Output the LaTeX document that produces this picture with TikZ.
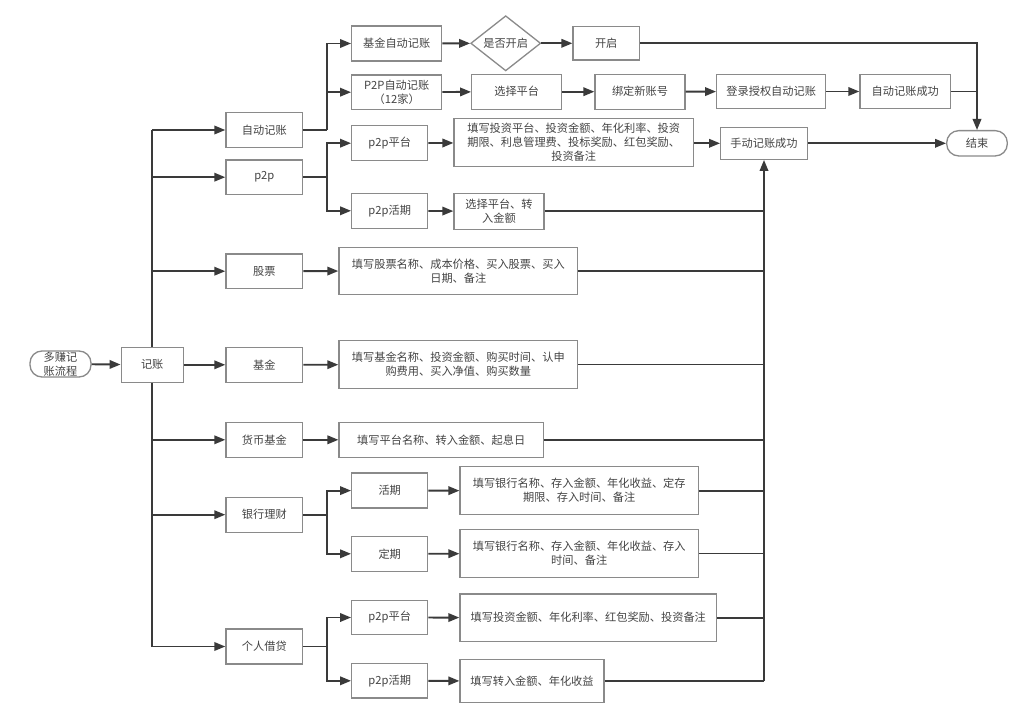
\documentclass[tikz,border=0pt]{standalone}
\usepackage{fontspec}
\setmainfont{Noto Sans CJK SC}
\usetikzlibrary{arrows.meta,shapes.geometric}
\definecolor{boxc}{HTML}{8A8A8A}
\definecolor{linec}{HTML}{3A3A3A}
\definecolor{txtc}{HTML}{444444}
\tikzset{
  base/.style={draw=boxc, line width=1.3pt, text=txtc, inner sep=0pt, align=center,
    font=\fontsize{11.2}{14}\selectfont},
  box/.style={base, rectangle, minimum width=#1},
  box/.default=76.7pt,
  bh/.style={minimum height=#1},
  term/.style={base, rectangle, rounded corners=12pt},
  dec/.style={base, diamond, minimum width=70pt, minimum height=46.7pt},
  conn/.style={draw=linec, line width=1.9pt},
  arr/.style={conn, -{Triangle[length=11pt,width=8.5pt]}}
}
\begin{document}
\begin{tikzpicture}[x=1pt,y=-1pt]
\useasboundingbox[fill=white] (0,0) rectangle (1024,708);
% left
\node[term, minimum width=61pt, minimum height=26pt] (start) at (60.5,364) {多赚记\\账流程};
\node[box=62pt, bh=35pt] (jz) at (152.2,364.8) {记账};
% categories
\node[box, bh=34.7pt] (zdjz) at (264.3,130) {自动记账};
\node[box, bh=34.3pt] (p2p) at (264.3,177.2) {p2p};
\node[box, bh=34.3pt] (gp) at (264.3,271.2) {股票};
\node[box, bh=35pt] (jj) at (264.3,364.8) {基金};
\node[box, bh=35pt] (hbjj) at (264.3,439.8) {货币基金};
\node[box, bh=35pt] (yhlc) at (264.3,514.7) {银行理财};
\node[box, bh=35pt] (grjd) at (264.3,646.5) {个人借贷};
% top rows
\node[box=90pt, bh=35pt] (jjzd) at (396.7,43.5) {基金自动记账};
\node[dec] (sfkq) at (505.7,43.3) {是否开启};
\node[box=66.3pt, bh=33.3pt] (kq) at (606.2,43.3) {开启};
\node[box=90pt, bh=34.3pt] (p2pzd) at (396.7,92.2) {P2P自动记账\\（12家）};
\node[box=90pt, bh=35pt] (xzpt) at (516.7,91.7) {选择平台};
\node[box=90pt, bh=35pt] (bd) at (640,91.7) {绑定新账号};
\node[box=109pt, bh=34pt] (dl) at (771.2,91.5) {登录授权自动记账};
\node[box=90.7pt, bh=34pt] (zdcg) at (905.3,91.5) {自动记账成功};
\node[term, minimum width=60.6pt, minimum height=25.3pt] (end) at (977,143.3) {结束};
\node[box=86.6pt, bh=32pt] (sdcg) at (764,143.3) {手动记账成功};
% p2p
\node[box=76pt, bh=35pt] (p2ppt) at (389.7,143.2) {p2p平台};
\node[box=76pt, bh=35pt] (p2phq) at (389.7,210.8) {p2p活期};
\node[box=239.3pt, bh=48.4pt] (t1) at (573.7,142.5) {填写投资平台、投资金额、年化利率、投资\\期限、利息管理费、投标奖励、红包奖励、\\投资备注};
\node[box=90pt, bh=36pt] (t2) at (499,211.3) {选择平台、转\\入金额};
% stock / fund / money fund
\node[box=238.7pt, bh=47pt] (t3) at (458.3,270.8) {填写股票名称、成本价格、买入股票、买入\\日期、备注};
\node[box=238.7pt, bh=48pt] (t4) at (458.3,364.5) {填写基金名称、投资金额、购买时间、认申\\购费用、买入净值、购买数量};
\node[box=204.3pt, bh=35pt] (t5) at (441.2,439.8) {填写平台名称、转入金额、起息日};
% bank
\node[box=76pt, bh=35pt] (hq) at (389.7,490.6) {活期};
\node[box=76pt, bh=35pt] (dq) at (389.7,553.8) {定期};
\node[box=238.3pt, bh=48pt] (t6) at (579.2,490.7) {填写银行名称、存入金额、年化收益、定存\\期限、存入时间、备注};
\node[box=238.3pt, bh=47.6pt] (t7) at (579.2,553.5) {填写银行名称、存入金额、年化收益、存入\\时间、备注};
% loans
\node[box=76pt, bh=34.4pt] (p2ppt2) at (389.7,617.5) {p2p平台};
\node[box=76pt, bh=34.3pt] (p2phq2) at (389.7,680.8) {p2p活期};
\node[box=256.7pt, bh=47.3pt] (t8) at (588.3,617.7) {填写投资金额、年化利率、红包奖励、投资备注};
\node[box=144pt, bh=42.6pt] (t9) at (532,681) {填写转入金额、年化收益};
% helper coordinates
\coordinate (ttop) at (152.2,130);
\coordinate (tbot) at (152.2,646.5);
\coordinate (b1) at (327,130);
\coordinate (b2) at (327,177.2);
\coordinate (b3) at (327,514.7);
\coordinate (b4) at (327,646.5);
% connectors
\draw[arr] (start) -- (jz);
\draw[conn] (jz.north) -- (ttop);
\draw[conn] (jz.south) -- (tbot);
\foreach \n in {zdjz,p2p,gp,hbjj,yhlc,grjd}{
  \draw[arr] (\n -| jz) -- (\n.west);
}
\draw[arr] (jz) -- (jj);
\draw[conn] (zdjz.east) -- (b1);
\draw[arr] (b1) |- (jjzd.west);
\draw[arr] (b1) |- (p2pzd.west);
\draw[arr] (jjzd) -- (sfkq);
\draw[arr] (sfkq) -- (kq);
\draw[arr] (kq.east) -| (end.north);
\draw[arr] (p2pzd) -- (xzpt);
\draw[arr] (xzpt) -- (bd);
\draw[arr] (bd) -- (dl);
\draw[arr] (dl) -- (zdcg);
\draw[conn] (zdcg.east) -- (zdcg -| end);
\draw[conn] (p2p.east) -- (b2);
\draw[arr] (b2) |- (p2ppt.west);
\draw[arr] (b2) |- (p2phq.west);
\draw[arr] (p2ppt) -- (t1);
\draw[arr] (t1.east |- sdcg) -- (sdcg);
\draw[arr] (sdcg) -- (end);
\draw[arr] (p2phq) -- (t2);
\draw[arr] (gp) -- (t3);
\draw[arr] (jj) -- (t4);
\draw[arr] (hbjj) -- (t5);
\draw[conn] (yhlc.east) -- (b3);
\draw[arr] (b3) |- (hq.west);
\draw[arr] (b3) |- (dq.west);
\draw[arr] (hq) -- (t6);
\draw[arr] (dq) -- (t7);
\draw[conn] (grjd.east) -- (b4);
\draw[arr] (b4) |- (p2ppt2.west);
\draw[arr] (b4) |- (p2phq2.west);
\draw[arr] (p2ppt2) -- (t8);
\draw[arr] (p2phq2) -- (t9);
\foreach \n in {t2,t3,t4,t5,t6,t7,t8}{
  \draw[conn] (\n.east) -- (\n -| sdcg);
}
\draw[conn] (t9.east) -- (t9 -| sdcg);
\draw[arr] (t9 -| sdcg) -- (sdcg.south);
\end{tikzpicture}
\end{document}
